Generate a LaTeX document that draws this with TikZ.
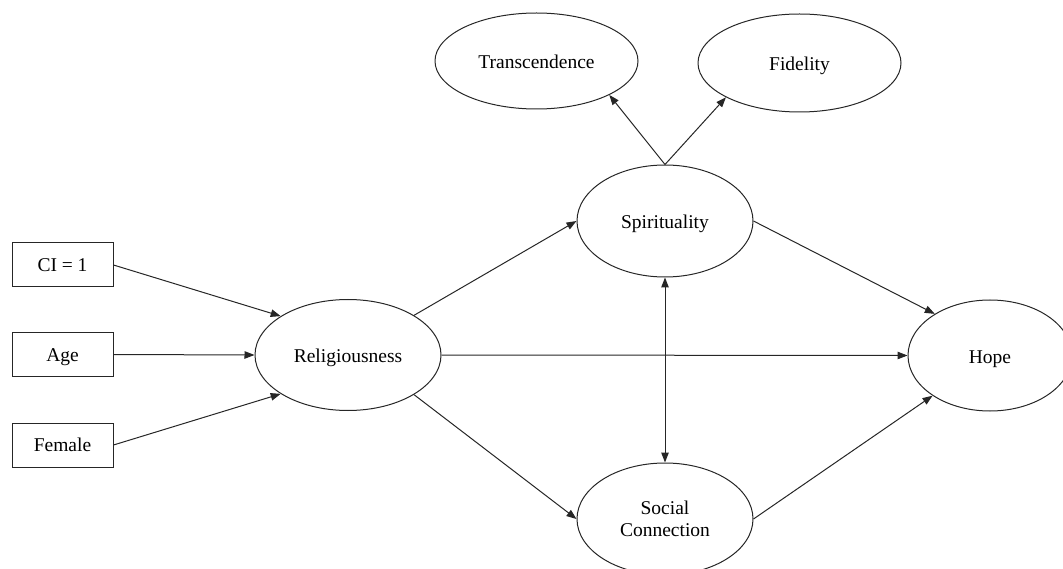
\documentclass[tikz,border=0pt]{standalone}
\usepackage{fontspec}
\setmainfont{Liberation Serif}
\usetikzlibrary{shapes.geometric,arrows.meta}
\begin{document}
\begin{tikzpicture}[x=1pt,y=-1pt,
  lat/.style={draw=black!85,line width=1pt,ellipse,inner sep=0pt,font=\fontsize{19.5}{22}\selectfont,align=center},
  one/.style={text height=17pt,text depth=1.5pt},
  obs/.style={draw=black!85,line width=1pt,rectangle,inner sep=0pt,minimum width=101pt,minimum height=44pt,font=\fontsize{19.5}{22}\selectfont,text height=14pt,text depth=1pt},
  arr/.style={draw=black!85,line width=1pt,-{Triangle[length=10pt,width=7.5pt]}},
  darr/.style={draw=black!85,line width=1pt,{Triangle[length=10pt,width=7.5pt]}-{Triangle[length=10pt,width=7.5pt]}}]
\useasboundingbox (0,0) rectangle (1063,569);
\clip (0,0) rectangle (1063,569);
\node[obs] (ci) at (62.5,265) {CI = 1};
\node[obs] (age) at (62.5,354.5) {Age};
\node[obs] (fem) at (62.5,445) {Female};
\node[lat,one,minimum width=186pt,minimum height=111pt] (rel) at (348,355) {Religiousness};
\node[lat,one,minimum width=176pt,minimum height=112pt] (spir) at (665,221) {Spirituality};
\node[lat,minimum width=176pt,minimum height=112pt] (soc) at (665,519) {Social\\Connection};
\node[lat,one,minimum width=164pt,minimum height=111pt] (hope) at (990,355.5) {Hope};
\node[lat,one,minimum width=203pt,minimum height=96pt] (trans) at (536.5,61) {Transcendence};
\node[lat,one,minimum width=203pt,minimum height=98pt] (fid) at (799.5,63) {Fidelity};
\draw[arr] (ci.east) -- (rel.150);
\draw[arr] (age.east) -- (rel.west);
\draw[arr] (fem.east) -- (rel.210);
\draw[arr] (rel.31) -- (spir.180);
\draw[arr] (rel.east) -- (hope.west);
\draw[arr] (rel.329) -- (soc.west);
\draw[arr] (spir.east) -- (hope.143);
\draw[arr] (soc.east) -- (hope.215);
\draw[darr] (spir.south) -- (soc.north);
\draw[arr] (spir.north) -- (trans.335);
\draw[arr] (spir.north) -- (fid.205);
\end{tikzpicture}
\end{document}
